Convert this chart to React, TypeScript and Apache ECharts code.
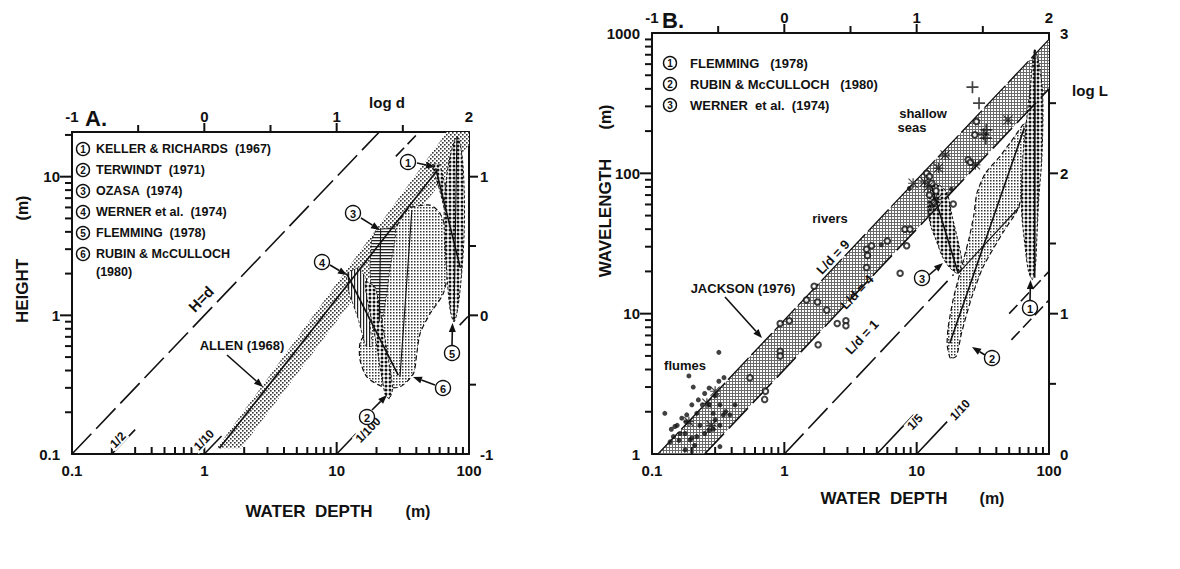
import React, { useEffect, useRef } from "react";
import * as echarts from "echarts";

type Pt = [number, number];

const A_DEPTH_MIN = 0.1;
const A_DEPTH_MAX = 100;
const A_HEIGHT_MIN = 0.1;
const A_HEIGHT_MAX = 21;

const A_ALLEN_BAND: Pt[] = [[1.24, 0.11], [68, 21], [100, 21], [100, 16.9], [1.9, 0.11]];
const A_ALLEN_LINE: Pt[] = [[1.3, 0.11], [57, 11]];
const A_RUBIN: Pt[] = [
  [35.9, 6.0], [50.8, 6.24], [60.5, 5.43], [68, 3.9], [69.9, 2.24], [64, 1.44], [50.8, 1.03],
  [42.7, 0.74], [40.3, 0.53], [38, 0.38], [30.1, 0.305], [22.5, 0.305], [16.9, 0.36], [15, 0.48],
  [15, 0.63], [16.9, 0.78], [20.1, 1.29], [21.9, 2.01], [23.9, 2.8], [26.9, 3.9], [30.1, 4.87], [34.8, 5.9],
];
const A_RUBIN_LINE: Pt[] = [[37, 5.74], [30.1, 0.36]];
const A_OZASA: Pt[] = [
  [20.1, 4.12], [27.6, 4.24], [27.6, 3.49], [25.4, 2.24], [23.9, 1.44], [21.3, 0.78], [18.4, 1.29], [17.9, 2.24], [18.4, 3.49],
];
const A_OZASA_LINE: Pt[] = [[21.5, 4.2], [21, 0.9]];
const A_WERNER: Pt[] = [[11.9, 2.0], [14.6, 2.2], [17.2, 1.75], [17.5, 1.0], [18.6, 0.6], [16.6, 0.6], [14.5, 0.95], [12.3, 1.5]];
const A_WERNER_LINE: Pt[] = [[11.9, 2.0], [29.2, 0.37]];
const A_TERWINDT: Pt[] = [[16.5, 1.75], [19.5, 1.6], [22, 0.9], [26.5, 0.3], [25, 0.25], [23.2, 0.27], [19.5, 0.7], [16.8, 1.4]];
const A_KELLER: Pt[] = [[54, 12.3], [60, 12.2], [72, 6], [88, 2.4], [85, 2.0], [76, 3.2], [60, 8], [54, 11]];
const A_KELLER_LINE: Pt[] = [[56, 11.5], [86, 2.2]];
const A_FLEMMING: Pt[] = [[81, 19.5], [88, 15], [92, 8], [92, 4], [88, 2], [82, 1.1], [77, 0.9], [72, 1.1], [68, 2], [65, 4], [66, 8], [72, 14]];
const A_FLEMMING_LINE: Pt[] = [[81, 19.5], [77, 0.9]];
const A_H_EQ_D: Pt[] = [[0.1, 0.1], [21, 21]];
const A_HALF: Pt[] = [[0.2, 0.1], [0.3, 0.15]];
const A_HALF_TOP: Pt[] = [[28, 14], [42, 21]];
const A_TENTH: Pt[] = [[1, 0.1], [1.35, 0.135]];
const A_HUNDREDTH: Pt[] = [[10, 0.1], [14, 0.14]];
const A_HUNDREDTH_RIGHT: Pt[] = [[85, 0.85], [100, 1]];

const A_LEGEND = [
  "KELLER & RICHARDS  (1967)",
  "TERWINDT  (1971)",
  "OZASA  (1974)",
  "WERNER et al.  (1974)",
  "FLEMMING  (1978)",
  "RUBIN & McCULLOCH",
];
const A_LEGEND_TAIL = "(1980)";

const B_DEPTH_MIN = 0.1;
const B_DEPTH_MAX = 100;
const B_WAVE_MIN = 1;
const B_WAVE_MAX = 1000;

const B_JACKSON_BAND: Pt[] = [[0.111, 1], [100, 900], [100, 400], [0.25, 1]];
const B_RUBIN: Pt[] = [
  [18, 4.8], [17, 6], [17.3, 8], [19, 13], [22, 22], [25, 35], [27, 50], [28.5, 72], [33, 100], [42, 130],
  [52, 170], [62, 215], [67, 232], [66, 150], [62, 70], [58, 55], [45, 38], [31.8, 21.6], [26, 13], [21.8, 7.25], [20, 5],
];
const B_RUBIN_LINE: Pt[] = [[17.8, 6.15], [65, 210]];
const B_WERNER: Pt[] = [
  [12.3, 52], [12.5, 70], [13.3, 82], [15, 82], [17, 72], [18.5, 50], [21, 30], [21.8, 24], [20.6, 19.4], [18, 21], [15.8, 25], [14.1, 33], [12.8, 42],
];
const B_WERNER_LINE: Pt[] = [[13, 80], [20.6, 19.4]];
const B_WERNER_TIP_LINE: Pt[] = [[20.6, 19.4], [60, 58]];
const B_FLEMMING: Pt[] = [
  [78, 760], [84, 600], [89, 400], [90, 250], [88, 120], [84, 70], [81, 35], [79, 22], [75, 17.5], [70, 20], [66, 30], [62, 55], [63, 120], [68, 250], [72, 400], [75, 600],
];
const B_FLEMMING_LINE: Pt[] = [[78, 18], [78.3, 760]];
const B_L9: Pt[] = [[0.111, 1], [100, 900]];
const B_L4: Pt[] = [[0.25, 1], [100, 400]];
const B_L1: Pt[] = [[1, 1], [19, 19]];
const B_FIFTH: Pt[] = [[5, 1], [9.5, 1.9]];
const B_TENTH: Pt[] = [[10, 1], [17, 1.7]];
const B_FIFTH_RIGHT: Pt[] = [[50, 10], [100, 20]];
const B_TENTH_RIGHT: Pt[] = [[52, 6.5], [100, 12.5]];

const B_FLUME_DOTS: Pt[] = [
  [0.125, 1.95], [0.32, 5.3], [0.19, 3.6], [0.205, 3.0], [0.27, 2.95], [0.32, 3.3], [0.35, 3.5], [0.25, 2.7],
  [0.224, 2.43], [0.2, 2.24], [0.183, 1.9], [0.168, 1.8], [0.149, 1.57], [0.145, 1.33], [0.163, 1.4], [0.178, 1.4],
  [0.194, 1.26], [0.137, 1.22], [0.178, 1.07], [0.326, 1.13], [0.218, 1.95], [0.24, 2.24], [0.27, 2.24], [0.29, 1.95],
  [0.326, 2.24], [0.346, 1.9], [0.388, 1.9], [0.424, 2.24], [0.218, 1.33], [0.25, 1.4], [0.29, 1.5], [0.326, 1.6],
  [0.23, 1.6], [0.27, 1.47], [0.16, 1.25], [0.2, 1.3], [0.3, 2.6], [0.18, 1.7], [0.21, 1.15], [0.155, 1.6],
  [0.14, 1.5], [0.3, 1.75], [0.36, 2.0], [5.4, 31], [8.8, 78], [18.3, 77],
];
const B_OPEN_CIRCLES: Pt[] = [
  [0.55, 3.5], [0.72, 2.8], [0.71, 2.45], [0.93, 8.5], [1.09, 8.9], [0.93, 5.4], [0.93, 5.0], [1.47, 12.5],
  [1.68, 15.7], [1.78, 12.1], [2.09, 10.6], [2.51, 8.5], [2.92, 8.9], [2.92, 8.2], [1.8, 6.0], [4.18, 28.8],
  [4.56, 30.5], [4.25, 26], [6.0, 33], [4.18, 21.3], [8.15, 40], [8.9, 40], [8.4, 30.5], [7.5, 19.4],
  [11.9, 100], [12.5, 95], [18.9, 60.5], [28.3, 234], [27.5, 188], [24.5, 125], [25.5, 120], [13, 85],
  [14, 75], [12.5, 70], [13.5, 62],
];
const B_PLUS: Pt[] = [[26.4, 411], [29.6, 316], [33.6, 204], [33.3, 178], [32, 190]];
const B_STARS: Pt[] = [
  [49, 240], [27.8, 115], [16.4, 135], [14.6, 109], [9.4, 85], [11.5, 87], [14.1, 65], [13, 58], [12.2, 80],
  [0.3, 2.8], [0.26, 2.3], [0.28, 1.6], [0.19, 1.7],
];

const B_LEGEND = ["FLEMMING   (1978)", "RUBIN & McCULLOCH   (1980)", "WERNER  et al.  (1974)"];

const MINOR_STEPS = [2, 3, 4, 5, 6, 7, 8, 9];
const HALF_EXPONENTS_DEPTH = [-0.5, 0.5, 1.5];
const HALF_EXPONENTS_HEIGHT = [-0.5, 0.5];
const HALF_EXPONENTS_WAVE = [0.5, 1.5, 2.5];

const FONT = '"Liberation Sans", Arial, Helvetica, sans-serif';
const INK = "#111111";

const tile = (w: number, h: number, body: string) => ({
  image:
    "data:image/svg+xml;charset=utf-8," +
    encodeURIComponent(`<svg xmlns="http://www.w3.org/2000/svg" width="${w}" height="${h}">${body}</svg>`),
  repeat: "repeat",
  imageWidth: w,
  imageHeight: h,
});

const PATTERNS: Record<string, any> = {
  band: tile(4, 4, '<rect width="4" height="4" fill="#fff"/><rect width="1.6" height="1.6" fill="#333"/><rect x="2" y="2" width="1.6" height="1.6" fill="#333"/>'),
  light: tile(3, 3, '<rect width="3" height="3" fill="#fff"/><rect width="1.5" height="1.5" fill="#333"/>'),
  cross: tile(3, 3, '<rect width="3" height="3" fill="#6a6a6a"/><rect x="1" y="1" width="2" height="2" fill="#fff"/>'),
  beads: tile(4, 4, '<rect width="4" height="4" fill="#fff"/><circle cx="2" cy="2" r="1.5" fill="#111"/>'),
  hatchH: tile(4, 3, '<rect width="4" height="3" fill="#fff"/><rect width="4" height="1.3" fill="#222"/>'),
  hatchV: tile(3, 4, '<rect width="3" height="4" fill="#fff"/><rect width="1.2" height="4" fill="#222"/>'),
};

const LOOKS: Record<string, any> = {
  band: { fill: PATTERNS.band },
  light: { fill: PATTERNS.light, stroke: INK, lineWidth: 1.2, lineDash: [5, 3] },
  cross: { fill: PATTERNS.cross },
  beads: { fill: PATTERNS.beads, stroke: INK, lineWidth: 1, lineDash: [3, 2] },
  hatchH: { fill: PATTERNS.hatchH, stroke: INK, lineWidth: 0.8, lineDash: [3, 2] },
  hatchV: { fill: PATTERNS.hatchV, stroke: INK, lineWidth: 0.8, lineDash: [3, 2] },
  solid: { stroke: INK, lineWidth: 1.6 },
  thin: { stroke: INK, lineWidth: 1.1 },
  longDash: { stroke: INK, lineWidth: 1.6, lineDash: [28, 7] },
  edgeDash: { stroke: INK, lineWidth: 1.3, lineDash: [30, 4] },
  dash: { stroke: INK, lineWidth: 1.6, lineDash: [12, 5] },
};

type ShapeSpec = { pts: Pt[]; look: string; smooth?: number };

const SHAPES_A: ShapeSpec[] = [
  { pts: A_ALLEN_BAND, look: "band" },
  { pts: A_RUBIN, look: "light", smooth: 0.25 },
  { pts: A_OZASA, look: "hatchH", smooth: 0.15 },
  { pts: A_WERNER, look: "hatchV", smooth: 0.1 },
  { pts: A_TERWINDT, look: "beads", smooth: 0.2 },
  { pts: A_KELLER, look: "beads", smooth: 0.2 },
  { pts: A_FLEMMING, look: "beads", smooth: 0.3 },
  { pts: A_ALLEN_LINE, look: "solid" },
  { pts: A_RUBIN_LINE, look: "thin" },
  { pts: A_OZASA_LINE, look: "thin" },
  { pts: A_WERNER_LINE, look: "solid" },
  { pts: A_KELLER_LINE, look: "solid" },
  { pts: A_FLEMMING_LINE, look: "thin" },
  { pts: A_H_EQ_D, look: "longDash" },
  { pts: A_HALF, look: "solid" },
  { pts: A_HALF_TOP, look: "dash" },
  { pts: A_TENTH, look: "solid" },
  { pts: A_HUNDREDTH, look: "solid" },
  { pts: A_HUNDREDTH_RIGHT, look: "dash" },
];

const SHAPES_B: ShapeSpec[] = [
  { pts: B_JACKSON_BAND, look: "cross" },
  { pts: B_RUBIN, look: "light", smooth: 0.2 },
  { pts: B_WERNER, look: "beads", smooth: 0.3 },
  { pts: B_FLEMMING, look: "beads", smooth: 0.3 },
  { pts: B_L9, look: "edgeDash" },
  { pts: B_L4, look: "longDash" },
  { pts: B_L1, look: "longDash" },
  { pts: B_FIFTH, look: "solid" },
  { pts: B_TENTH, look: "solid" },
  { pts: B_FIFTH_RIGHT, look: "dash" },
  { pts: B_TENTH_RIGHT, look: "dash" },
  { pts: B_RUBIN_LINE, look: "solid" },
  { pts: B_WERNER_LINE, look: "solid" },
  { pts: B_WERNER_TIP_LINE, look: "thin" },
  { pts: B_FLEMMING_LINE, look: "solid" },
];

// tick marks: value along the axis, side (0 bottom inward, 1 left outward, 2 top outward, 3 right outward), pixel length
type TickSpec = { v: number; side: number; len: number };
const buildTicks = (xMax: number, yMax: number, xDecades: number[], yDecades: number[], xHalf: number[], yHalf: number[]) => {
  const out: TickSpec[] = [];
  xDecades.forEach((dec) => {
    MINOR_STEPS.forEach((s) => { if (s * dec < xMax) out.push({ v: s * dec, side: 0, len: 7 }); });
  });
  yDecades.forEach((dec) => {
    MINOR_STEPS.forEach((s) => { if (s * dec < yMax) out.push({ v: s * dec, side: 1, len: 7 }); });
  });
  xDecades.slice(1).forEach((dec) => {
    out.push({ v: dec, side: 0, len: 12 });
    out.push({ v: dec, side: 2, len: 9 });
  });
  yDecades.slice(1).forEach((dec) => {
    out.push({ v: dec, side: 1, len: 12 });
    out.push({ v: dec, side: 3, len: 9 });
  });
  xHalf.forEach((e) => out.push({ v: Math.pow(10, e), side: 2, len: 7 }));
  yHalf.forEach((e) => out.push({ v: Math.pow(10, e), side: 3, len: 7 }));
  return out;
};
const TICKS_A = buildTicks(A_DEPTH_MAX, A_HEIGHT_MAX, [0.1, 1, 10], [0.1, 1, 10], HALF_EXPONENTS_DEPTH, HALF_EXPONENTS_HEIGHT);
const TICKS_B = buildTicks(B_DEPTH_MAX, B_WAVE_MAX, [0.1, 1, 10], [1, 10, 100], HALF_EXPONENTS_DEPTH, HALF_EXPONENTS_WAVE);

const TICK_W = 2;

const panelRenderer = (shapes: ShapeSpec[], ticks: TickSpec[], xMin: number, xMax: number, yMin: number, yMax: number) =>
  (params: any, api: any) => {
    if (params.dataIndex < shapes.length) {
      const s = shapes[params.dataIndex];
      const look = LOOKS[s.look];
      const points = s.pts.map((p) => api.coord(p));
      if (look.fill) {
        return {
          type: "polygon",
          shape: { points, smooth: s.smooth || 0 },
          style: { fill: look.fill, stroke: look.stroke || null, lineWidth: look.lineWidth || 0, lineDash: look.lineDash || null },
        };
      }
      return {
        type: "polyline",
        shape: { points },
        style: { fill: "none", stroke: look.stroke, lineWidth: look.lineWidth, lineDash: look.lineDash || null },
      };
    }
    // tick marks drawn as small filled rectangles anchored on the axes through the axis scales
    const children = ticks.map((t) => {
      const a =
        t.side === 0 ? api.coord([t.v, yMin]) :
        t.side === 1 ? api.coord([xMin, t.v]) :
        t.side === 2 ? api.coord([t.v, yMax]) :
        api.coord([xMax, t.v]);
      let rect;
      if (t.side === 0 || t.side === 2) rect = { x: a[0] - TICK_W / 2, y: a[1] - t.len, width: TICK_W, height: t.len };
      else if (t.side === 1) rect = { x: a[0] - t.len, y: a[1] - TICK_W / 2, width: t.len, height: TICK_W };
      else rect = { x: a[0], y: a[1] - TICK_W / 2, width: t.len, height: TICK_W };
      return { type: "rect", shape: rect, style: { fill: INK, stroke: null } };
    });
    return { type: "group", children };
  };

const powLabel = (v: number) => {
  const l = Math.log10(v);
  return Math.abs(l - Math.round(l)) < 1e-6 ? String(+v.toPrecision(3)) : "";
};
const intLabel = (v: number) => (Math.abs(v - Math.round(v)) < 1e-6 ? String(Math.round(v)) : "");

const axisLineStyle = { show: true, onZero: false, lineStyle: { color: INK, width: 2 } };
const labelStyle = (margin: number, formatter: any) => ({
  color: INK,
  fontWeight: "bold",
  fontSize: 15,
  fontFamily: FONT,
  margin,
  formatter,
});

const G: any[] = [];
const text = (x: number, y: number, t: string, size = 13, opts: any = {}) => {
  G.push({
    type: "text",
    x,
    y,
    rotation: opts.rot || 0,
    z: 100,
    silent: true,
    style: {
      text: t,
      fill: INK,
      font: `bold ${size}px ${FONT}`,
      align: opts.align || "center",
      textAlign: opts.align || "center",
      verticalAlign: "middle",
      textVerticalAlign: "middle",
      backgroundColor: opts.bg || undefined,
      padding: opts.bg ? [0, 2] : 0,
    },
  });
};
const circled = (cx: number, cy: number, n: number, r = 7.5) => {
  G.push({ type: "circle", z: 100, silent: true, shape: { cx, cy, r }, style: { fill: "#fff", stroke: INK, lineWidth: 1.4 } });
  text(cx, cy + 0.5, String(n), r > 7 ? 11 : 10);
};
const arrow = (x1: number, y1: number, x2: number, y2: number) => {
  const a = Math.atan2(y2 - y1, x2 - x1);
  const L = 9;
  const w = 3.5;
  const bx = x2 - L * Math.cos(a);
  const by = y2 - L * Math.sin(a);
  const px = -Math.sin(a) * w;
  const py = Math.cos(a) * w;
  G.push({ type: "line", z: 100, silent: true, shape: { x1, y1, x2: bx, y2: by }, style: { stroke: INK, lineWidth: 1.6 } });
  G.push({ type: "polygon", z: 100, silent: true, shape: { points: [[x2, y2], [bx + px, by + py], [bx - px, by - py]] }, style: { fill: INK } });
};
const deg = (d: number) => (d * Math.PI) / 180;

text(96, 118, "A.", 22);
text(387, 102, "log d", 15);
text(22, 291, "HEIGHT", 17, { rot: deg(90) });
text(22, 208, "(m)", 16, { rot: deg(90) });
text(309, 511, "WATER  DEPTH", 17);
text(418, 511, "(m)", 16);
A_LEGEND.forEach((t, i) => {
  const y = 149 + i * 21;
  circled(83, y, i + 1, 6.5);
  text(96, y, t, 12.5, { align: "left" });
});
text(96, 272, A_LEGEND_TAIL, 12.5, { align: "left" });
text(201, 299, "H=d", 15, { rot: deg(46), bg: "#fff" });
text(118, 440, "1/2", 12, { rot: deg(46), bg: "#fff" });
text(204, 440, "1/10", 12, { rot: deg(46), bg: "#fff" });
text(368, 430, "1/100", 12, { rot: deg(46), bg: "#fff" });
text(242, 345, "ALLEN (1968)", 13);
arrow(227, 355, 263, 387);
circled(408, 162, 1);
arrow(417, 163, 435, 167);
circled(353, 213, 3);
arrow(361, 218, 380, 230);
circled(322, 262, 4);
arrow(330, 265, 347, 275);
circled(367, 417, 2);
arrow(372, 410, 387, 395);
circled(443, 388, 6);
arrow(435, 385, 413, 377);
circled(452, 353, 5);
arrow(452, 346, 452.5, 323);

text(673, 20, "B.", 22);
text(1090, 90, "log L", 15);
text(605, 218, "WAVELENGTH", 17, { rot: deg(90) });
text(605, 117, "(m)", 16, { rot: deg(90) });
text(884, 498, "WATER  DEPTH", 17);
text(992, 498, "(m)", 16);
B_LEGEND.forEach((t, i) => {
  const y = 63 + i * 21;
  circled(670, y, i + 1, 6.5);
  text(690, y, t, 13, { align: "left" });
});
text(923, 113, "shallow", 13);
text(912, 127, "seas", 13);
text(830, 218, "rivers", 13);
text(685, 365, "flumes", 13);
text(743, 288, "JACKSON (1976)", 13);
arrow(725, 297, 762, 338);
text(833, 257, "L/d = 9", 13, { rot: deg(46.7) });
text(857, 292, "L/d = 4", 13, { rot: deg(46.7) });
text(862, 337, "L/d = 1", 13, { rot: deg(46.7), bg: "#fff" });
text(915, 422, "1/5", 12, { rot: deg(46.7), bg: "#fff" });
text(960, 410, "1/10", 12, { rot: deg(46.7), bg: "#fff" });
circled(922, 278, 3);
arrow(929, 275, 943, 263);
circled(992, 358, 2);
arrow(985, 355, 972, 347);
circled(1030, 308, 1);
arrow(1030, 301, 1030.5, 280);

const PLUS_PATH = "path://M4.3 0L5.7 0L5.7 4.3L10 4.3L10 5.7L5.7 5.7L5.7 10L4.3 10L4.3 5.7L0 5.7L0 4.3L4.3 4.3Z";
const STAR_PATH =
  "path://M4.4 0L5.6 0L5.6 10L4.4 10Z M0 4.4L10 4.4L10 5.6L0 5.6Z M0.8 0L10 9.2L9.2 10L0 0.8Z M9.2 0L10 0.8L0.8 10L0 9.2Z";

function buildOption(): any {
  const logX = (grid: number, min: number, max: number) => ({
    type: "log",
    logBase: 10,
    gridIndex: grid,
    position: "bottom",
    min,
    max,
    axisLine: axisLineStyle,
    axisTick: { show: false },
    splitLine: { show: false },
    axisLabel: labelStyle(9, powLabel),
  });
  const topX = (grid: number) => ({
    type: "value",
    gridIndex: grid,
    position: "top",
    min: -1,
    max: 2,
    interval: 0.5,
    axisLine: axisLineStyle,
    axisTick: { show: false },
    splitLine: { show: false },
    axisLabel: labelStyle(8, intLabel),
  });
  const logY = (grid: number, min: number, max: number) => ({
    type: "log",
    logBase: 10,
    gridIndex: grid,
    position: "left",
    min,
    max,
    axisLine: axisLineStyle,
    axisTick: { show: false },
    splitLine: { show: false },
    axisLabel: labelStyle(12, powLabel),
  });
  const rightY = (grid: number, min: number, max: number) => ({
    type: "value",
    gridIndex: grid,
    position: "right",
    min,
    max,
    interval: 0.5,
    axisLine: axisLineStyle,
    axisTick: { show: false },
    splitLine: { show: false },
    axisLabel: labelStyle(11, intLabel),
  });

  return {
    animation: false,
    backgroundColor: "#fff",
    grid: [
      { left: 72, top: 132, width: 397, height: 322 },
      { left: 652, top: 33, width: 397, height: 421 },
    ],
    xAxis: [logX(0, A_DEPTH_MIN, A_DEPTH_MAX), topX(0), logX(1, B_DEPTH_MIN, B_DEPTH_MAX), topX(1)],
    yAxis: [
      logY(0, A_HEIGHT_MIN, A_HEIGHT_MAX),
      rightY(0, Math.log10(A_HEIGHT_MIN), Math.log10(A_HEIGHT_MAX)),
      logY(1, B_WAVE_MIN, B_WAVE_MAX),
      rightY(1, Math.log10(B_WAVE_MIN), Math.log10(B_WAVE_MAX)),
    ],
    series: [
      {
        type: "custom",
        name: "panel A",
        xAxisIndex: 0,
        yAxisIndex: 0,
        clip: false,
        z: 1,
        renderItem: panelRenderer(SHAPES_A, TICKS_A, A_DEPTH_MIN, A_DEPTH_MAX, A_HEIGHT_MIN, A_HEIGHT_MAX),
        encode: { x: 0, y: 1 },
        data: [...SHAPES_A.map((s) => s.pts[0]), [1, 1]],
      },
      {
        type: "custom",
        name: "panel B",
        xAxisIndex: 2,
        yAxisIndex: 2,
        clip: false,
        z: 1,
        renderItem: panelRenderer(SHAPES_B, TICKS_B, B_DEPTH_MIN, B_DEPTH_MAX, B_WAVE_MIN, B_WAVE_MAX),
        encode: { x: 0, y: 1 },
        data: [...SHAPES_B.map((s) => s.pts[0]), [1, 10]],
      },
      {
        type: "scatter",
        name: "flumes",
        xAxisIndex: 2,
        yAxisIndex: 2,
        z: 3,
        symbol: "circle",
        symbolSize: 5,
        itemStyle: { color: INK },
        data: B_FLUME_DOTS,
      },
      {
        type: "scatter",
        name: "rivers",
        xAxisIndex: 2,
        yAxisIndex: 2,
        z: 3,
        symbol: "emptyCircle",
        symbolSize: 5.5,
        itemStyle: { color: INK, borderColor: INK, borderWidth: 1.1 },
        data: B_OPEN_CIRCLES,
      },
      {
        type: "scatter",
        name: "plus",
        xAxisIndex: 2,
        yAxisIndex: 2,
        z: 3,
        symbol: PLUS_PATH,
        symbolSize: 12,
        itemStyle: { color: INK },
        data: B_PLUS,
      },
      {
        type: "scatter",
        name: "stars",
        xAxisIndex: 2,
        yAxisIndex: 2,
        z: 3,
        symbol: STAR_PATH,
        symbolSize: 10,
        itemStyle: { color: INK },
        data: B_STARS,
      },
    ],
    graphic: { elements: G },
  };
}

export default function App() {
  const ref = useRef<HTMLDivElement>(null);
  useEffect(() => {
    if (!ref.current) return;
    const chart = echarts.init(ref.current, undefined, { renderer: "svg", width: 1180, height: 569 });
    chart.setOption(buildOption());
    return () => chart.dispose();
  }, []);
  return (
    <div
      ref={ref}
      style={{ position: "absolute", left: 0, top: 0, width: 1180, height: 569, background: "#fff" }}
    />
  );
}
